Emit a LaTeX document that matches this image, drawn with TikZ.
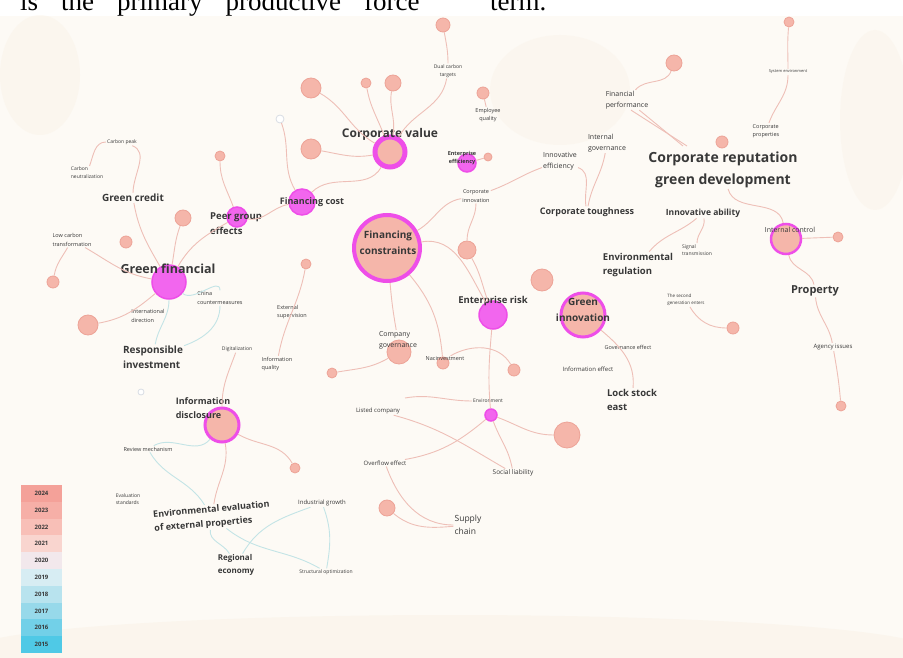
\documentclass[tikz,border=0pt]{standalone}
\usepackage{fontspec}
\setsansfont{Open Sans}
\newfontfamily\pagefont{Liberation Serif}
\usetikzlibrary{calc}

\definecolor{pagecream}{HTML}{FDFAF5}
\definecolor{markcream}{HTML}{F8EEDF}
\definecolor{edgepink}{HTML}{EEBFB7}
\definecolor{edgeteal}{HTML}{C3E4E6}
\definecolor{nodepink}{HTML}{F5B6AA}
\definecolor{nodeedge}{HTML}{EDA397}
\definecolor{burstmag}{HTML}{EE4EE8}
\definecolor{magfill}{HTML}{F266EE}
\definecolor{labgray}{HTML}{383838}
\definecolor{palegray}{HTML}{D8DCE4}

\newcommand{\kwsize}[1]{\fontsize{#1}{\fpeval{1.55*#1}}\selectfont}

\tikzset{
  kw/.style={circle, fill=nodepink, draw=nodeedge, line width=0.8pt, inner sep=0pt, minimum size=#1},
  kwring/.style={circle, fill=nodepink, draw=burstmag, line width=3pt, inner sep=0pt, minimum size=#1},
  kwburst/.style={circle, fill=magfill, draw=burstmag, line width=1.5pt, inner sep=0pt, minimum size=#1},
  lab/.style={text=labgray, align=center, inner sep=1pt, font=\sffamily\kwsize{#1}},
  blab/.style={text=labgray, align=center, inner sep=1pt, font=\sffamily\bfseries\kwsize{#1}},
  link/.style={draw=edgepink, line width=0.9pt},
  tlink/.style={draw=edgeteal, line width=0.9pt},
  yearcell/.style={minimum width=41pt, minimum height=16.8pt, inner sep=0pt, text=labgray,
    font=\sffamily\bfseries\fontsize{6}{6}\selectfont}
}

\begin{document}
\begin{tikzpicture}[x=1pt,y=1pt]
  % \draw[step=50,thin,gray!40] (0,0) grid (903,-658);
  \useasboundingbox (0,0) rectangle (903,-658);
  \fill[pagecream] (0,-16) rectangle (903,-658);
  \fill[markcream,opacity=0.3] (40,-75) ellipse [x radius=40, y radius=60];
  \fill[markcream,opacity=0.25] (560,-90) ellipse [x radius=70, y radius=55];
  \fill[markcream,opacity=0.25] (875,-120) ellipse [x radius=35, y radius=90];
  \fill[markcream,opacity=0.35] (450,-650) ellipse [x radius=480, y radius=35];

  % text of the page above the figure
  \node[anchor=base west, inner sep=0pt, font=\pagefont\fontsize{27}{27}\selectfont] (pageLine) at (20,-11)
    {is\hskip23pt the\hskip23pt primary\hskip23pt productive\hskip23pt force};
  \node[anchor=base west, inner sep=0pt, font=\pagefont\fontsize{27}{27}\selectfont] (pageTerm) at (490,-11) {term.};

  % keyword circles
  \node[kw=14pt] (topNode) at (443,-25) {};
  \node[kw=20pt] (valueANode) at (311,-88) {};
  \node[kw=10pt] (valueBNode) at (366,-83) {};
  \node[kw=16pt] (valueCNode) at (393,-83) {};
  \node[kw=12pt] (employeeNode) at (483,-93) {};
  \node[circle, draw=palegray, fill=white, line width=0.8pt, minimum size=8pt, inner sep=0pt] (grayANode) at (280,-119) {};
  \node[kw=20pt] (valueDNode) at (311,-149) {};
  \node[kwring=30pt, line width=5pt] (valueNode) at (390,-152) {};
  \node[kwburst=18pt] (efficiencyNode) at (467,-163) {};
  \node[kw=8pt] (efficiencyBNode) at (488,-157) {};
  \node[kwburst=26pt] (costNode) at (302,-202) {};
  \node[kw=10pt] (peerANode) at (220,-156) {};
  \node[kwburst=20pt] (peerNode) at (237,-217) {};
  \node[kw=16pt] (creditNode) at (183,-218) {};
  \node[kw=12pt] (creditBNode) at (126,-242) {};
  \node[kw=12pt] (lowCarbonNode) at (53,-282) {};
  \node[kwburst=34pt] (financialNode) at (169,-282) {};
  \node[kw=20pt] (directionNode) at (88,-325) {};
  \node[kwring=66pt, line width=4pt] (constraintsNode) at (387,-248) {};
  \node[kw=18pt] (innovationBNode) at (467,-250) {};
  \node[kw=10pt] (supervisionNode) at (306,-264) {};
  \node[kw=22pt] (riskBNode) at (542,-280) {};
  \node[kwburst=28pt] (riskNode) at (493,-315) {};
  \node[kwring=44pt] (greenInnovNode) at (583,-315) {};
  \node[kw=24pt] (governanceNode) at (399,-352) {};
  \node[kw=12pt] (nacNode) at (443,-363) {};
  \node[kw=10pt] (governanceBNode) at (332,-373) {};
  \node[kw=12pt] (nacBNode) at (514,-370) {};
  \node[kwburst=12pt] (environmentNode) at (491,-415) {};
  \node[kw=26pt] (environmentBNode) at (567,-435) {};
  \node[circle, draw=palegray, fill=white, line width=0.8pt, minimum size=6pt, inner sep=0pt] (grayBNode) at (141,-392) {};
  \node[kwring=34pt] (disclosureNode) at (222,-425) {};
  \node[kw=10pt] (disclosureBNode) at (295,-468) {};
  \node[kw=16pt] (supplyNode) at (387,-508) {};
  \node[kw=10pt] (topRightNode) at (789,-22) {};
  \node[kw=16pt] (performanceNode) at (674,-63) {};
  \node[kw=12pt] (reputationNode) at (722,-142) {};
  \node[kwring=30pt, line width=2.5pt] (controlNode) at (786,-239) {};
  \node[kw=10pt] (controlBNode) at (838,-237) {};
  \node[kw=12pt] (generationNode) at (733,-328) {};
  \node[kw=10pt] (agencyNode) at (841,-406) {};

  % keyword labels
  \node[lab=5] (dualLabel) at (448,-71) {Dual carbon\\targets};
  \node[lab=5.5] (employeeLabel) at (488,-115) {Employee\\quality};
  \node[blab=12] (valueLabel) at (390,-134) {Corporate value};
  \node[blab=5.5] (efficiencyLabel) at (462,-158) {Enterprise\\efficiency};
  \node[lab=5.5] (innovationLabel) at (476,-196) {Corporate\\innovation};
  \node[blab=9] (costLabel) at (312,-202) {Financing cost};
  \node[blab=10] (constraintsLabel) at (388,-243) {Financing\\constraints};
  \node[lab=5] (peakLabel) at (122,-142) {Carbon peak};
  \node[lab=5, align=left] (neutralLabel) at (87,-173) {Carbon\\neutralization};
  \node[blab=10] (creditLabel) at (133,-198) {Green credit};
  \node[blab=9.5, align=left] (peerLabel) at (236,-224) {Peer group\\effects};
  \node[lab=5.5, align=left] (lowCarbonLabel) at (72,-240) {Low carbon\\transformation};
  \node[blab=12.5] (financialLabel) at (168,-269) {Green financial};
  \node[lab=5.5, align=left] (chinaLabel) at (220,-298) {China\\countermeasures};
  \node[lab=5.5, align=left] (directionLabel) at (148,-316) {International\\direction};
  \node[blab=10, align=left] (responsibleLabel) at (153,-357) {Responsible\\investment};
  \node[lab=5.5, align=left] (supervisionLabel) at (292,-312) {External\\supervision};
  \node[lab=5] (digitalLabel) at (237,-349) {Digitalization};
  \node[lab=5.5, align=left] (qualityLabel) at (277,-364) {Information\\quality};
  \node[blab=9, align=left] (disclosureLabel) at (203,-408) {Information\\disclosure};
  \node[lab=5.5] (reviewLabel) at (148,-449) {Review mechanism};
  \node[lab=5, align=left] (standardsLabel) at (128,-499) {Evaluation\\standards};
  \node[blab=9, align=left, rotate=5] (externalLabel) at (212,-517) {Environmental evaluation\\of external properties};
  \node[blab=8, align=left] (regionalLabel) at (236,-565) {Regional\\economy};
  \node[lab=6] (industrialLabel) at (322,-503) {Industrial growth};
  \node[lab=5] (structuralLabel) at (326,-572) {Structural optimization};
  \node[lab=6] (listedLabel) at (378,-411) {Listed company};
  \node[lab=6] (overflowLabel) at (385,-463) {Overflow effect};
  \node[lab=6.5] (socialLabel) at (513,-473) {Social liability};
  \node[lab=8.5, align=left] (supplyLabel) at (468,-525) {Supply\\chain};
  \node[lab=5] (environmentLabel) at (488,-401) {Environment};
  \node[lab=7, align=left] (governanceLabel) at (398,-340) {Company\\governance};
  \node[lab=5.5] (nacLabel) at (445,-359) {Nacinvestment};
  \node[blab=9.5] (riskLabel) at (493,-301) {Enterprise risk};
  \node[blab=10] (greenInnovLabel) at (583,-310) {Green\\innovation};
  \node[lab=5.5] (govEffectLabel) at (628,-347) {Governance effect};
  \node[lab=6] (infoEffectLabel) at (588,-369) {Information effect};
  \node[blab=9.5, align=left] (lockLabel) at (632,-400) {Lock stock\\east};
  \node[lab=7, align=left] (performanceLabel) at (627,-100) {Financial\\performance};
  \node[lab=7, align=left] (intGovLabel) at (607,-143) {Internal\\governance};
  \node[lab=7, align=left] (innovEffLabel) at (560,-161) {Innovative\\efficiency};
  \node[blab=9] (toughLabel) at (587,-212) {Corporate toughness};
  \node[lab=4] (systemLabel) at (788,-72) {System environment};
  \node[lab=5.5, align=left] (propertiesLabel) at (766,-131) {Corporate\\properties};
  \node[blab=14] (reputationLabel) at (723,-170) {Corporate reputation\\green development};
  \node[blab=8.5] (abilityLabel) at (703,-213) {Innovative ability};
  \node[lab=7] (controlLabel) at (790,-230) {Internal control};
  \node[lab=5, align=left] (signalLabel) at (697,-250) {Signal\\transmission};
  \node[blab=9.5, align=left] (regulationLabel) at (638,-265) {Environmental\\regulation};
  \node[lab=4.5, align=left] (generationLabel) at (686,-300) {The second\\generation enters};
  \node[blab=11] (propertyLabel) at (815,-291) {Property};
  \node[lab=6] (agencyLabel) at (833,-347) {Agency issues};

  \coordinate (envTail) at (405,-398);
  \coordinate (perfEnd) at (683,-146);

  % links
  \draw[link] (topNode) to[out=-80,in=90] (dualLabel);
  \draw[link] (dualLabel) to[out=-100,in=60] (valueNode);
  \draw[link] (valueANode) to[out=-30,in=150] (valueNode);
  \draw[link] (valueBNode) to[out=-80,in=110] (valueNode);
  \draw[link] (valueCNode) to[out=-100,in=80] (valueNode);
  \draw[link] (valueDNode) to[out=-10,in=190] (valueNode);
  \draw[link] (employeeNode) -- (employeeLabel);
  \draw[link] (efficiencyNode) -- (efficiencyBNode);
  \draw[link] (valueNode) to[out=-120,in=45] (costNode);
  \draw[link] (grayANode) to[out=-70,in=120] (costNode);
  \draw[link] (costNode) to[out=190,in=-10] (peerNode);
  \draw[link] (peerNode) to[out=110,in=-90] (peerANode);
  \draw[link] (peerNode) to[out=210,in=60] (financialNode);
  \draw[link] (financialNode) to[out=80,in=-110] (creditNode);
  \draw[link] (neutralLabel) to[out=70,in=180] (peakLabel);
  \draw[link] (peakLabel) to[out=-20,in=90] (creditLabel);
  \draw[link] (creditLabel) to[out=-80,in=120] (financialNode);
  \draw[link] (lowCarbonLabel) to[out=-30,in=170] (financialNode);
  \draw[link] (lowCarbonLabel) to[out=-120,in=80] (lowCarbonNode);
  \draw[link] (financialNode) to[out=-140,in=10] (directionNode);
  \draw[tlink] (financialNode) to[out=-40,in=90] (chinaLabel);
  \draw[tlink] (financialNode) to[out=-90,in=80] (responsibleLabel);
  \draw[tlink] (chinaLabel) to[out=-90,in=20] (responsibleLabel);
  \draw[link] (constraintsNode) to[out=30,in=190] (innovationLabel);
  \draw[link] (innovationLabel) to[out=20,in=200] (innovEffLabel);
  \draw[link] (innovEffLabel) to[out=-20,in=100] (toughLabel);
  \draw[link] (intGovLabel) to[out=-100,in=80] (toughLabel);
  \draw[link] (innovationLabel) to[out=-90,in=90] (innovationBNode);
  \draw[link] (innovationBNode) to[out=-60,in=110] (riskNode);
  \draw[link] (constraintsNode) to[out=10,in=120] (riskNode);
  \draw[link] (constraintsNode) to[out=-85,in=100] (governanceLabel);
  \draw[link] (constraintsNode) to[out=-50,in=95] (nacNode);
  \draw[link] (governanceNode) to[out=-150,in=10] (governanceBNode);
  \draw[link] (nacLabel) to[out=30,in=120] (nacBNode);
  \draw[link] (riskNode) to[out=-95,in=95] (environmentNode);
  \draw[link] (environmentNode) to[out=-20,in=180] (environmentBNode);
  \draw[link] (environmentNode) to[out=-140,in=10] (overflowLabel);
  \draw[link] (environmentNode) to[out=-70,in=100] (socialLabel);
  \draw[link] (listedLabel) to[out=-15,in=150] (socialLabel);
  \draw[link] (envTail) to[out=10,in=180] (environmentLabel);
  \draw[link] (overflowLabel) to[out=-70,in=180] (supplyLabel);
  \draw[link] (supplyNode) to[out=-40,in=185] (supplyLabel);
  \draw[link] (supervisionNode) to[out=-100,in=80] (qualityLabel);
  \draw[link] (digitalLabel) to[out=-110,in=90] (disclosureNode);
  \draw[link] (disclosureNode) to[out=-30,in=120] (disclosureBNode);
  \draw[link] (disclosureNode) to[out=-80,in=80] (externalLabel);
  \draw[tlink] (disclosureNode) to[out=-130,in=30] (reviewLabel);
  \draw[tlink] (reviewLabel) to[out=-60,in=120] (externalLabel);
  \draw[tlink] (industrialLabel) to[out=-160,in=60] (regionalLabel);
  \draw[tlink] (industrialLabel) to[out=-70,in=80] (structuralLabel);
  \draw[tlink] (externalLabel) to[out=-40,in=150] (structuralLabel);
  \draw[tlink] (externalLabel) to[out=-100,in=120] (regionalLabel);
  \draw[link] (performanceNode) to[out=-110,in=50] (performanceLabel);
  \draw[link] (performanceLabel) -- (perfEnd);
  \draw[link] ([xshift=4pt]performanceLabel.south) -- ([xshift=4pt]perfEnd);
  \draw[link] (topRightNode) to[out=-95,in=90] (systemLabel);
  \draw[link] (systemLabel) to[out=-90,in=70] (propertiesLabel);
  \draw[link] (reputationLabel) to[out=-75,in=100] (controlNode);
  \draw[link] (abilityLabel) to[out=-140,in=50] (regulationLabel);
  \draw[link] (signalLabel) to[out=90,in=-80] (abilityLabel);
  \draw[link] (controlNode) -- (controlBNode);
  \draw[link] (controlNode) to[out=-80,in=100] (propertyLabel);
  \draw[link] (propertyLabel) to[out=-85,in=100] (agencyLabel);
  \draw[link] (agencyLabel) to[out=-80,in=95] (agencyNode);
  \draw[link] (greenInnovNode) to[out=-40,in=85] (lockLabel);
  \draw[link] (generationLabel) to[out=-60,in=180] (generationNode);

  % year legend
  \foreach \yr/\col [count=\i] in {2024/F4A199, 2023/F6AFA7, 2022/F8BFB7, 2021/F9D5CF, 2020/F2E8EC,
                                  2019/D7EDF3, 2018/B8E3EE, 2017/97D9EA, 2016/72D0E8, 2015/4FC9E6}
  {
    \definecolor{cellcol}{HTML}{\col}
    \node[yearcell, fill=cellcol] (year\yr) at (41.5,{-493.4-(\i-1)*16.8}) {\yr};
  }
\end{tikzpicture}
\end{document}
